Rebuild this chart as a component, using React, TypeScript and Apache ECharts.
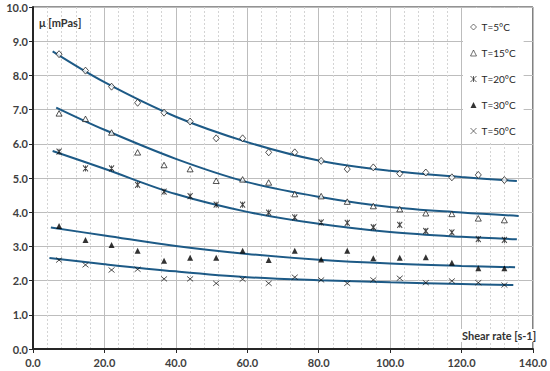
import React, { useEffect, useRef } from "react";
import * as echarts from "echarts";

const shearRate = [7.3, 14.7, 22.0, 29.3, 36.7, 44.0, 51.3, 58.7, 66.0, 73.3, 80.7, 88.0, 95.3, 102.7, 110.0, 117.3, 124.7, 132.0];
const mu5 = [8.62, 8.14, 7.67, 7.20, 6.91, 6.65, 6.16, 6.16, 5.75, 5.75, 5.50, 5.26, 5.31, 5.13, 5.16, 5.02, 5.09, 4.94];
const mu15 = [6.89, 6.73, 6.33, 5.75, 5.38, 5.26, 4.92, 4.96, 4.87, 4.53, 4.47, 4.31, 4.18, 4.09, 3.97, 3.95, 3.82, 3.77];
const mu20 = [5.77, 5.28, 5.28, 4.80, 4.60, 4.47, 4.22, 4.22, 3.99, 3.85, 3.70, 3.69, 3.56, 3.63, 3.45, 3.41, 3.21, 3.19];
const mu30 = [3.60, 3.19, 3.04, 2.87, 2.58, 2.67, 2.67, 2.87, 2.60, 2.87, 2.62, 2.87, 2.65, 2.67, 2.68, 2.52, 2.36, 2.36];
const mu50 = [2.60, 2.46, 2.31, 2.33, 2.05, 2.05, 1.92, 2.04, 1.92, 2.10, 2.02, 1.92, 2.02, 2.07, 1.94, 1.99, 1.94, 1.87];

// trend lines
const trend5X = [5.5, 20, 40, 60, 80, 100, 120, 135.5];
const trend5Y = [8.70, 7.80, 6.79, 6.05, 5.51, 5.21, 5.03, 4.91];
const trend15X = [6.5, 20, 40, 60, 80, 100, 120, 136];
const trend15Y = [7.06, 6.41, 5.56, 4.88, 4.45, 4.15, 3.99, 3.89];
const trend20X = [5.5, 20, 40, 60, 80, 100, 120, 135.5];
const trend20Y = [5.79, 5.27, 4.53, 4.01, 3.66, 3.42, 3.28, 3.21];
const trend30X = [5, 20, 40, 60, 80, 100, 120, 135];
const trend30Y = [3.55, 3.32, 3.01, 2.78, 2.61, 2.50, 2.43, 2.39];
const trend50X = [4.6, 20, 40, 60, 80, 100, 120, 134.5];
const trend50Y = [2.66, 2.48, 2.27, 2.10, 2.01, 1.95, 1.90, 1.87];

const seriesNames = ["T=5°C", "T=15°C", "T=20°C", "T=30°C", "T=50°C"];
const xTitle = "Shear rate [s-1]";
const yTitle = "μ [mPas]";

const FONT = "Lato, 'Open Sans', sans-serif";
const TREND = "#1d5a86";

const pairs = (xs: number[], ys: number[]) => xs.map((x, i) => [x, ys[i]]);

export default function App() {
  const ref = useRef<HTMLDivElement>(null);
  useEffect(() => {
    if (!ref.current) return;
    const chart = echarts.init(ref.current, null, { renderer: "svg" });
    const starPath = "path://M0,0L10,10M10,0L0,10M5,0L5,10";
    const xPath = "path://M0,0L10,10M10,0L0,10";
    const symbols: any[] = [
      { symbol: "diamond", symbolSize: [6, 7], itemStyle: { color: "#fff", borderColor: "#111", borderWidth: 0.9 } },
      { symbol: "triangle", symbolSize: [6, 5.5], itemStyle: { color: "#fff", borderColor: "#111", borderWidth: 0.9 } },
      { symbol: starPath, symbolSize: [5, 6], itemStyle: { color: "none", borderColor: "#111", borderWidth: 1 } },
      { symbol: "triangle", symbolSize: [6, 6], itemStyle: { color: "#000", borderColor: "#000", borderWidth: 0 } },
      { symbol: xPath, symbolSize: [6, 5], itemStyle: { color: "none", borderColor: "#111", borderWidth: 0.9 } },
    ];
    const legendIcons: any[] = [
      { icon: "diamond", itemStyle: { color: "#fff", borderColor: "#222", borderWidth: 0.8 } },
      { icon: "triangle", itemStyle: { color: "#fff", borderColor: "#222", borderWidth: 0.8 } },
      { icon: starPath, itemStyle: { color: "none", borderColor: "#222", borderWidth: 0.9 } },
      { icon: "triangle", itemStyle: { color: "#000", borderColor: "#000", borderWidth: 0 } },
      { icon: xPath, itemStyle: { color: "none", borderColor: "#222", borderWidth: 0.8 } },
    ];
    const values = [mu5, mu15, mu20, mu30, mu50];
    const trends = [
      pairs(trend5X, trend5Y),
      pairs(trend15X, trend15Y),
      pairs(trend20X, trend20Y),
      pairs(trend30X, trend30Y),
      pairs(trend50X, trend50Y),
    ];
    const series: any[] = [];
    trends.forEach((t, i) => {
      series.push({
        type: "line",
        name: "trend" + i,
        data: t,
        smooth: 0.35,
        showSymbol: false,
        symbol: "none",
        lineStyle: { color: TREND, width: 2 },
        z: 2,
        silent: true,
      });
    });
    values.forEach((v, i) => {
      series.push({
        type: "scatter",
        name: seriesNames[i],
        data: pairs(shearRate, v),
        ...symbols[i],
        z: 3,
      });
    });
    chart.setOption({
      animation: false,
      grid: {
        left: 33,
        right: 17,
        top: 7,
        bottom: 22,
        show: true,
        borderColor: "#262626",
        borderWidth: 1,
        backgroundColor: "transparent",
      },
      legend: {
        data: seriesNames.map((n, i) => ({ name: n, ...legendIcons[i] })),
        orient: "vertical",
        left: 463,
        top: 8,
        padding: [12, 8, 4, 5],
        itemGap: 12,
        itemWidth: 6,
        itemHeight: 6,
        backgroundColor: "#fff",
        textStyle: { fontFamily: FONT, fontSize: 10, color: "#262626", lineHeight: 14 },
        selectedMode: false,
      },
      xAxis: {
        type: "value",
        min: 0,
        max: 140,
        interval: 20,
        axisLine: { show: true, lineStyle: { color: "#262626", width: 2 } },
        axisTick: { show: true, length: 4, lineStyle: { color: "#262626", width: 1 } },
        axisLabel: {
          formatter: (v: number) => v.toFixed(1),
          fontFamily: FONT,
          fontWeight: "bold",
          fontSize: 11,
          color: "#404040",
          margin: 8,
        },
        splitLine: { show: true, lineStyle: { color: "#bdbdbd", width: 1 } },
        minorTick: { show: false, splitNumber: 5 },
        minorSplitLine: { show: true, lineStyle: { color: "#d4d4d4", width: 1, type: [2, 2] } },
      },
      yAxis: {
        type: "value",
        min: 0,
        max: 10,
        interval: 1,
        axisLine: { show: true, lineStyle: { color: "#262626", width: 2 } },
        axisTick: { show: true, length: 4, lineStyle: { color: "#262626", width: 1 } },
        axisLabel: {
          formatter: (v: number) => v.toFixed(1),
          fontFamily: FONT,
          fontWeight: "bold",
          fontSize: 11,
          color: "#404040",
          margin: 5,
        },
        splitLine: { show: true, lineStyle: { color: "#bdbdbd", width: 1 } },
      },
      graphic: [
        {
          type: "text",
          left: 39,
          top: 17,
          style: { text: yTitle, font: `bold 11px ${FONT}`, fill: "#333" },
          z: 10,
        },
        {
          type: "text",
          left: 460,
          top: 329,
          style: {
            text: xTitle,
            font: `bold 11px ${FONT}`,
            fill: "#333",
            backgroundColor: "#fff",
            padding: [1, 2, 1, 2],
          },
          z: 10,
        },
      ],
      series,
    });
    return () => chart.dispose();
  }, []);
  return <div ref={ref} style={{ width: 550, height: 371, position: "absolute", left: 0, top: 0 }} />;
}
